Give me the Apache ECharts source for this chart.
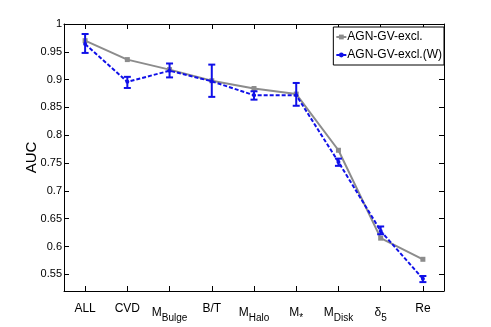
<!DOCTYPE html>
<html>
<head>
<meta charset="utf-8">
<script src="https://cdn.jsdelivr.net/npm/echarts@6/dist/echarts.min.js"></script>
<style>
  html, body { margin: 0; padding: 0; background: #fff; }
  #chart { width: 491px; height: 327px; }
</style>
</head>
<body>
<div id="chart"></div>
<script>
// categories (rich-text keys used for subscripts)
const categories = ['ALL', 'CVD', 'MBulge', 'B/T', 'MHalo', 'Mstar', 'MDisk', 'delta5', 'Re'];
const yTicks = [0.55, 0.6, 0.65, 0.7, 0.75, 0.8, 0.85, 0.9, 0.95, 1];

// AUC values
const aucExcl = [0.970, 0.936, 0.918, 0.898, 0.884, 0.874, 0.773, 0.615, 0.577];
const aucExclW = [0.964, 0.896, 0.916, 0.897, 0.872, 0.872, 0.752, 0.628, 0.542];
// error bars of the weighted series
const errLowW = [0.948, 0.885, 0.904, 0.869, 0.864, 0.853, 0.745, 0.622, 0.536];
const errHighW = [0.982, 0.905, 0.929, 0.927, 0.879, 0.894, 0.758, 0.636, 0.547];

const font = "'Liberation Sans Narrow', 'Arial Narrow', 'Liberation Sans', Arial, sans-serif";
const blue = '#1010e8';
const gray = '#8c8c8c';

const labelMap = {
  ALL: 'ALL',
  CVD: 'CVD',
  'B/T': 'B/T',
  Re: 'Re',
  MBulge: 'M{s|Bulge}',
  MHalo: 'M{s|Halo}',
  Mstar: 'M{s|*}',
  MDisk: 'M{s|Disk}',
  delta5: 'δ{s|5}'
};

const chart = echarts.init(document.getElementById('chart'));

function errorBar(params, api) {
  const x = api.value(0);
  const lo = api.coord([x, api.value(1)]);
  const hi = api.coord([x, api.value(2)]);
  const w = 3.5;
  const style = { stroke: blue, lineWidth: 2, fill: null };
  return {
    type: 'group',
    children: [
      { type: 'line', shape: { x1: lo[0], y1: lo[1], x2: hi[0], y2: hi[1] }, style },
      { type: 'line', shape: { x1: lo[0] - w, y1: lo[1], x2: lo[0] + w, y2: lo[1] }, style },
      { type: 'line', shape: { x1: hi[0] - w, y1: hi[1], x2: hi[0] + w, y2: hi[1] }, style }
    ]
  };
}

const tickStyle = { color: '#000', width: 1 };

chart.setOption({
  animation: false,
  backgroundColor: '#fff',
  textStyle: { fontFamily: font },
  grid: { left: 64, right: 47, top: 24, bottom: 36 },
  legend: {
    right: 47, top: 27,
    orient: 'vertical',
    backgroundColor: '#fff',
    borderColor: '#000', borderWidth: 1,
    borderRadius: 0,
    padding: [4, 2, 4, 2],
    itemGap: 6,
    itemWidth: 10, itemHeight: 6,
    textStyle: { fontFamily: font, fontSize: 12, color: '#000', padding: [0, 0, 0, -4] },
    data: ['AGN-GV-excl.', 'AGN-GV-excl.(W)']
  },
  xAxis: [
    {
      type: 'category',
      data: categories,
      boundaryGap: true,
      axisLine: { lineStyle: { color: '#000' } },
      axisTick: { show: true, inside: true, alignWithLabel: true, interval: 0, length: 5, lineStyle: tickStyle },
      axisLabel: {
        interval: 0,
        margin: 12,
        fontSize: 12,
        color: '#000',
        fontFamily: font,
        formatter: v => labelMap[v],
        rich: { s: { fontSize: 10, fontFamily: font, color: '#000', padding: [10, 0, 0, 0] } }
      },
      splitLine: { show: false }
    },
    {
      type: 'category',
      data: categories,
      position: 'top',
      boundaryGap: true,
      axisLine: { lineStyle: { color: '#000' } },
      axisTick: { show: true, inside: true, alignWithLabel: true, interval: 0, length: 5, lineStyle: tickStyle },
      axisLabel: { show: false, interval: 0 },
      splitLine: { show: false }
    }
  ],
  yAxis: [
    {
      type: 'value',
      min: 0.52, max: 1,
      name: 'AUC',
      nameLocation: 'middle',
      nameGap: 25,
      nameMoveOverlap: false,
      nameTextStyle: { fontSize: 15, color: '#000', fontFamily: 'Liberation Sans, Arial, sans-serif' },
      axisLine: { show: true, lineStyle: { color: '#000' } },
      axisTick: { show: true, inside: true, length: 5, customValues: yTicks, lineStyle: tickStyle },
      axisLabel: { customValues: yTicks, fontSize: 11, color: '#000', margin: 2, fontFamily: font },
      splitLine: { show: false }
    },
    {
      type: 'value',
      min: 0.52, max: 1,
      position: 'right',
      axisLine: { show: true, lineStyle: { color: '#000' } },
      axisTick: { show: true, inside: true, length: 5, customValues: yTicks, lineStyle: tickStyle },
      axisLabel: { show: false },
      splitLine: { show: false }
    }
  ],
  series: [
    {
      name: 'AGN-GV-excl.',
      type: 'line',
      data: aucExcl,
      symbol: 'rect',
      symbolSize: 5,
      itemStyle: { color: gray },
      lineStyle: { color: gray, width: 2 },
      z: 2
    },
    {
      name: 'AGN-GV-excl.(W)',
      type: 'line',
      data: aucExclW,
      symbol: 'circle',
      symbolSize: 4,
      itemStyle: { color: blue },
      lineStyle: { color: blue, width: 2, type: [4, 2] },
      z: 3
    },
    {
      type: 'custom',
      renderItem: errorBar,
      data: categories.map((c, i) => [i, errLowW[i], errHighW[i]]),
      z: 4,
      silent: true
    }
  ]
});
</script>
</body>
</html>
